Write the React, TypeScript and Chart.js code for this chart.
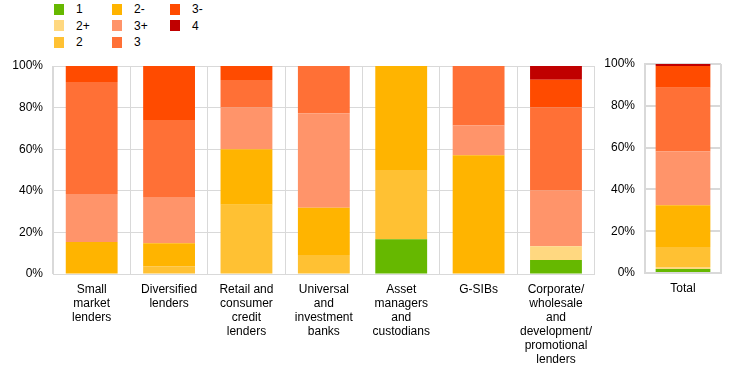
import React, { useEffect, useRef } from "react";
import { Chart, registerables } from "chart.js";

Chart.register(...registerables);

const categories: string[][] = [
  ["Small", "market", "lenders"],
  ["Diversified", "lenders"],
  ["Retail and", "consumer", "credit", "lenders"],
  ["Universal", "and", "investment", "banks"],
  ["Asset", "managers", "and", "custodians"],
  ["G-SIBs"],
  ["Corporate/", "wholesale", "and", "development/", "promotional", "lenders"],
];
const totalCategory = ["Total"];

const seriesNames = ["1", "2+", "2", "2-", "3+", "3", "3-", "4"];
const seriesColors = ["#66B800", "#FFD880", "#FFC133", "#FFB400", "#FF946A", "#FF7036", "#FF4B00", "#C00000"];

const s1 = [0, 0, 0, 0, 16.7, 0, 6.7];
const s2plus = [0, 0, 0, 0, 0, 0, 6.7];
const s2 = [0, 3.7, 33.3, 9.1, 33.3, 0, 0];
const s2minus = [15.4, 11.1, 26.7, 22.7, 50, 57.1, 0];
const s3plus = [23.1, 22.2, 20, 45.5, 0, 14.3, 26.7];
const s3 = [53.8, 37.0, 13.3, 22.7, 0, 28.6, 40];
const s3minus = [7.7, 26.0, 6.7, 0, 0, 0, 13.3];
const s4 = [0, 0, 0, 0, 0, 0, 6.6];

const totals = [1.9, 1.0, 9.5, 20.0, 25.7, 30.5, 10.5, 0.9];

const yTicks = [0, 20, 40, 60, 80, 100];

const FONT = "'Liberation Sans', Arial, sans-serif";
const GRID = "#d9d9d9";

function makeOptions(yWidth: number, xHeight: number, pad: any, lw: number) {
  return {
    responsive: false,
    animation: false as const,
    devicePixelRatio: 1,
    layout: { padding: pad },
    plugins: { legend: { display: false }, tooltip: { enabled: false } },
    scales: {
      x: {
        stacked: true,
        grid: { color: GRID, drawTicks: false, offset: true, lineWidth: lw },
        border: { color: GRID, width: lw },
        ticks: {
          color: "#000",
          font: { family: FONT, size: 12, lineHeight: "14px" },
          padding: 9,
          maxRotation: 0,
          autoSkip: false,
        },
        afterFit: (s: any) => {
          s.height = xHeight;
        },
      },
      y: {
        stacked: true,
        min: 0,
        max: 100,
        afterBuildTicks: (s: any) => {
          s.ticks = yTicks.map((v) => ({ value: v }));
        },
        grid: { color: GRID, drawTicks: false, lineWidth: lw },
        border: { color: GRID, width: lw },
        ticks: {
          color: "#000",
          font: { family: FONT, size: 12 },
          padding: 10,
          callback: (v: any) => v + "%",
        },
        afterFit: (s: any) => {
          s.width = yWidth;
        },
      },
    },
  };
}

export default function App() {
  const leftRef = useRef<HTMLCanvasElement>(null);
  const rightRef = useRef<HTMLCanvasElement>(null);

  useEffect(() => {
    const groups = [s1, s2plus, s2, s2minus, s3plus, s3, s3minus, s4];
    const left = new Chart(leftRef.current!, {
      type: "bar",
      data: {
        labels: categories,
        datasets: groups.map((d, i) => ({
          label: seriesNames[i],
          data: d,
          backgroundColor: seriesColors[i],
          borderWidth: 0,
          barPercentage: 0.67,
          categoryPercentage: 1,
        })),
      },
      options: makeOptions(53, 99, { top: 66, right: 0, left: 0, bottom: 0 }, 1) as any,
    });
    const right = new Chart(rightRef.current!, {
      type: "bar",
      data: {
        labels: [totalCategory],
        datasets: totals.map((v, i) => ({
          label: seriesNames[i],
          data: [v],
          backgroundColor: seriesColors[i],
          borderWidth: 0,
          barPercentage: 0.72,
          categoryPercentage: 1,
        })),
      },
      options: makeOptions(45, 100, { top: 64, right: 23, left: 0, bottom: 0 }, 2) as any,
    });
    return () => {
      left.destroy();
      right.destroy();
    };
  }, []);

  const legendCols = [
    [0, 1, 2],
    [3, 4, 5],
    [6, 7],
  ];
  const colX = [54, 112, 170];
  const rowY = [9, 25.5, 42];

  return (
    <div style={{ position: "absolute", left: 0, top: 0, width: 744, height: 373, background: "#fff", overflow: "hidden" }}>
      {legendCols.map((col, ci) =>
        col.map((si, ri) => (
          <React.Fragment key={si}>
            <div
              style={{
                position: "absolute",
                left: colX[ci],
                top: rowY[ri] - 5.5,
                width: 10,
                height: 11,
                background: seriesColors[si],
              }}
            />
            <div
              style={{
                position: "absolute",
                left: colX[ci] + 22,
                top: rowY[ri] - 7,
                height: 14,
                lineHeight: "14px",
                fontFamily: FONT,
                fontSize: 12,
                color: "#000",
                whiteSpace: "nowrap",
              }}
            >
              {seriesNames[si]}
            </div>
          </React.Fragment>
        ))
      )}
      <canvas ref={leftRef} width={601} height={373} style={{ position: "absolute", left: 0, top: 0, width: 601, height: 373 }} />
      <canvas ref={rightRef} width={144} height={373} style={{ position: "absolute", left: 600, top: 0, width: 144, height: 373 }} />
    </div>
  );
}
